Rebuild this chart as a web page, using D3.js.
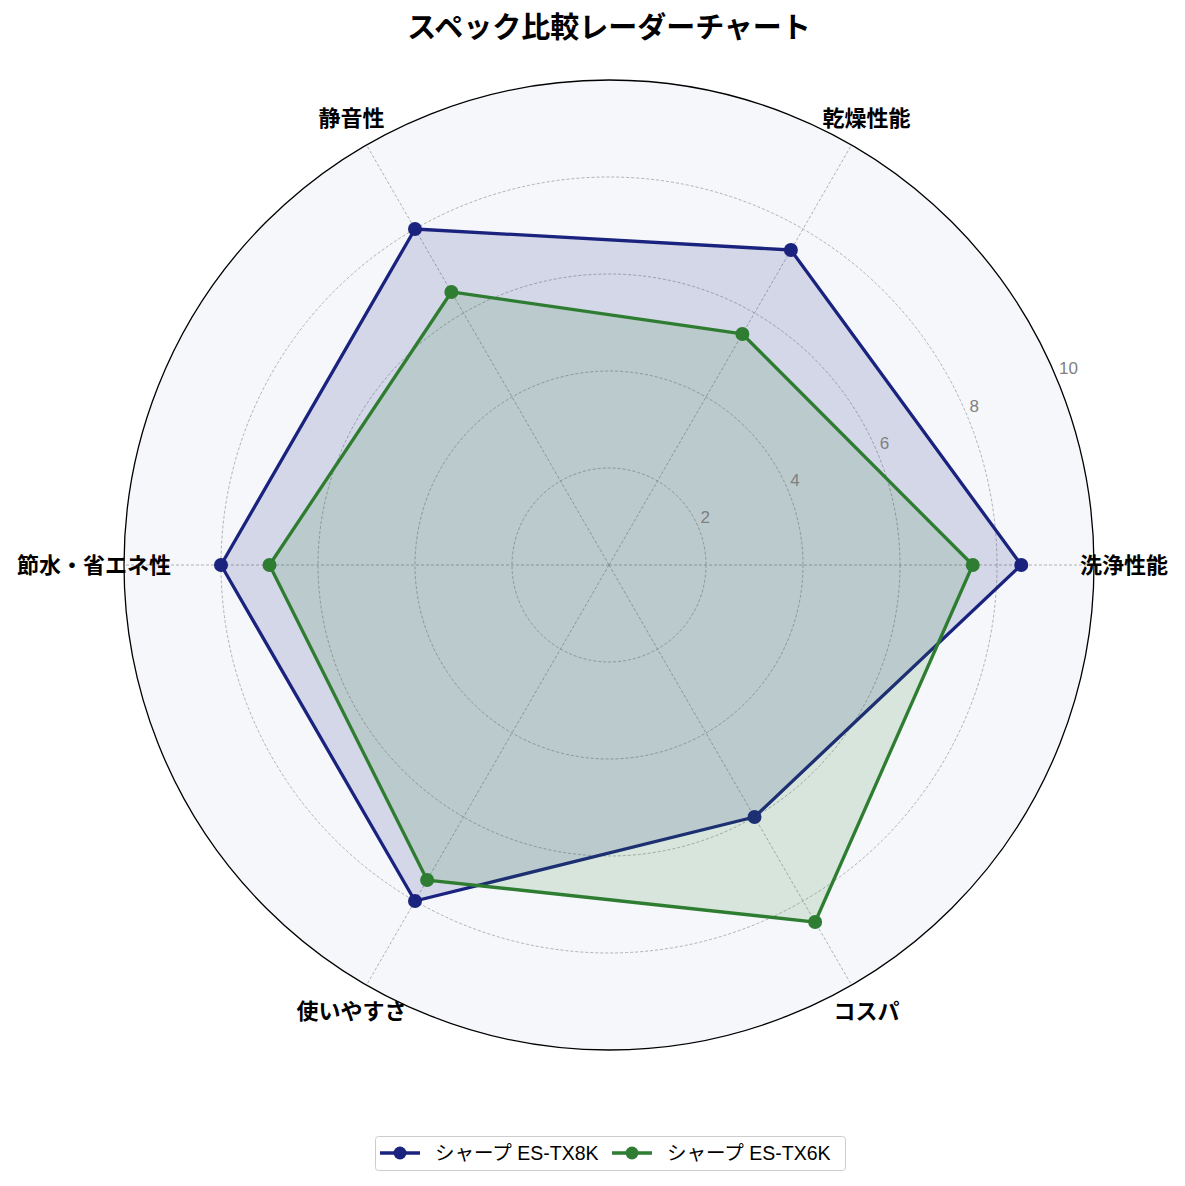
<!DOCTYPE html>
<html lang="ja">
<head>
<meta charset="UTF-8">
<title>スペック比較レーダーチャート</title>
<script src="https://d3js.org/d3.v7.min.js"></script>
<style>
  body { margin: 0; background: #fff; }
  text { font-family: "Liberation Sans", "Noto Sans CJK JP", sans-serif; }
</style>
</head>
<body>
<svg id="chart" width="1185" height="1186"></svg>
<script>
// データ
var categories = ["洗浄性能", "乾燥性能", "静音性", "節水・省エネ性", "使いやすさ", "コスパ"];
var seriesNames = ["シャープ ES-TX8K", "シャープ ES-TX6K"];
var tx8kValues = [8.5, 7.5, 8, 8, 8, 6];
var tx6kValues = [7.5, 5.5, 6.5, 7, 7.5, 8.5];
var rTicks = [2, 4, 6, 8, 10];
var seriesColors = ["#1a237e", "#2e7d32"];

var width = 1185, height = 1186;
var cx = 609, cy = 565, radius = 485;

var svg = d3.select("#chart");

var r = d3.scaleLinear().domain([0, 10]).range([0, radius]);
// 0番目が右（0°）、反時計回り
var angle = d3.scaleLinear().domain([0, categories.length]).range([0, 2 * Math.PI]);

function px(i, v) { return cx + r(v) * Math.cos(angle(i)); }
function py(i, v) { return cy - r(v) * Math.sin(angle(i)); }

// 背景
svg.append("circle")
    .attr("cx", cx).attr("cy", cy).attr("r", r(10))
    .attr("fill", "#f5f7fb");

// グリッド円
svg.selectAll(".grid").data(rTicks.filter(function(d){ return d < 10; })).enter()
  .append("circle")
    .attr("cx", cx).attr("cy", cy)
    .attr("r", function(d){ return r(d); })
    .attr("fill", "none")
    .attr("stroke", "#a0a0a0")
    .attr("stroke-width", 0.8)
    .attr("stroke-dasharray", "3,2");

// 放射線
svg.selectAll(".spoke").data(categories).enter()
  .append("line")
    .attr("x1", cx).attr("y1", cy)
    .attr("x2", function(d, i){ return px(i, 10); })
    .attr("y2", function(d, i){ return py(i, 10); })
    .attr("stroke", "#a0a0a0")
    .attr("stroke-width", 0.8)
    .attr("stroke-dasharray", "3,2");

// 系列
var allSeries = [tx8kValues, tx6kValues];
var line = d3.lineRadial()
    .angle(function(d, i){ return Math.PI / 2 - angle(i); })
    .radius(function(d){ return r(d); })
    .curve(d3.curveLinearClosed);

allSeries.forEach(function(vals, k) {
  var g = svg.append("g").attr("transform", "translate(" + cx + "," + cy + ")");
  g.append("path")
      .attr("d", line(vals))
      .attr("fill", "none")
      .attr("stroke", seriesColors[k])
      .attr("stroke-width", 3.3)
      .attr("stroke-linejoin", "round");
  g.selectAll("circle").data(vals).enter().append("circle")
      .attr("cx", function(d, i){ return r(d) * Math.cos(angle(i)); })
      .attr("cy", function(d, i){ return -r(d) * Math.sin(angle(i)); })
      .attr("r", 7)
      .attr("fill", seriesColors[k]);
  g.append("path")
      .attr("d", line(vals))
      .attr("fill", seriesColors[k])
      .attr("fill-opacity", 0.15)
      .attr("stroke", "none");
});

// 外周
svg.append("circle")
    .attr("cx", cx).attr("cy", cy).attr("r", r(10))
    .attr("fill", "none")
    .attr("stroke", "#000")
    .attr("stroke-width", 1.3);

// 目盛りラベル
var labAng = Math.PI / 8;
svg.selectAll(".rlab").data(rTicks).enter()
  .append("text")
    .attr("x", function(d){ return cx + r(d) * Math.cos(labAng) + 2; })
    .attr("y", function(d){ return cy - r(d) * Math.sin(labAng) - 5; })
    .attr("font-size", 17)
    .attr("fill", "#808080")
    .text(function(d){ return d; });

// カテゴリラベル
svg.selectAll(".clab").data(categories).enter()
  .append("text")
    .attr("x", function(d, i){ return cx + (radius + 30) * Math.cos(angle(i)); })
    .attr("y", function(d, i){ return cy - (radius + 30) * Math.sin(angle(i)); })
    .attr("text-anchor", "middle")
    .attr("dominant-baseline", "central")
    .attr("font-size", 22)
    .attr("font-weight", "bold")
    .text(function(d){ return d; });

// タイトル
svg.append("text")
    .attr("x", cx).attr("y", 28)
    .attr("text-anchor", "middle")
    .attr("dominant-baseline", "central")
    .attr("font-size", 29)
    .attr("font-weight", "bold")
    .text("スペック比較レーダーチャート");

// 凡例
var legend = svg.append("g");
legend.append("rect")
    .attr("x", 375.5).attr("y", 1136.5)
    .attr("width", 470).attr("height", 34)
    .attr("rx", 3)
    .attr("fill", "#fff")
    .attr("stroke", "#cccccc");
var legX = [380, 612];
seriesNames.forEach(function(name, k) {
  var x0 = legX[k], y0 = 1153;
  legend.append("line")
      .attr("x1", x0).attr("x2", x0 + 40)
      .attr("y1", y0).attr("y2", y0)
      .attr("stroke", seriesColors[k]).attr("stroke-width", 3.3);
  legend.append("circle")
      .attr("cx", x0 + 20).attr("cy", y0).attr("r", 6.5)
      .attr("fill", seriesColors[k]);
  legend.append("text")
      .attr("x", x0 + 55).attr("y", y0)
      .attr("dominant-baseline", "central")
      .attr("font-size", 19.5)
      .text(name);
});
</script>
</body>
</html>
